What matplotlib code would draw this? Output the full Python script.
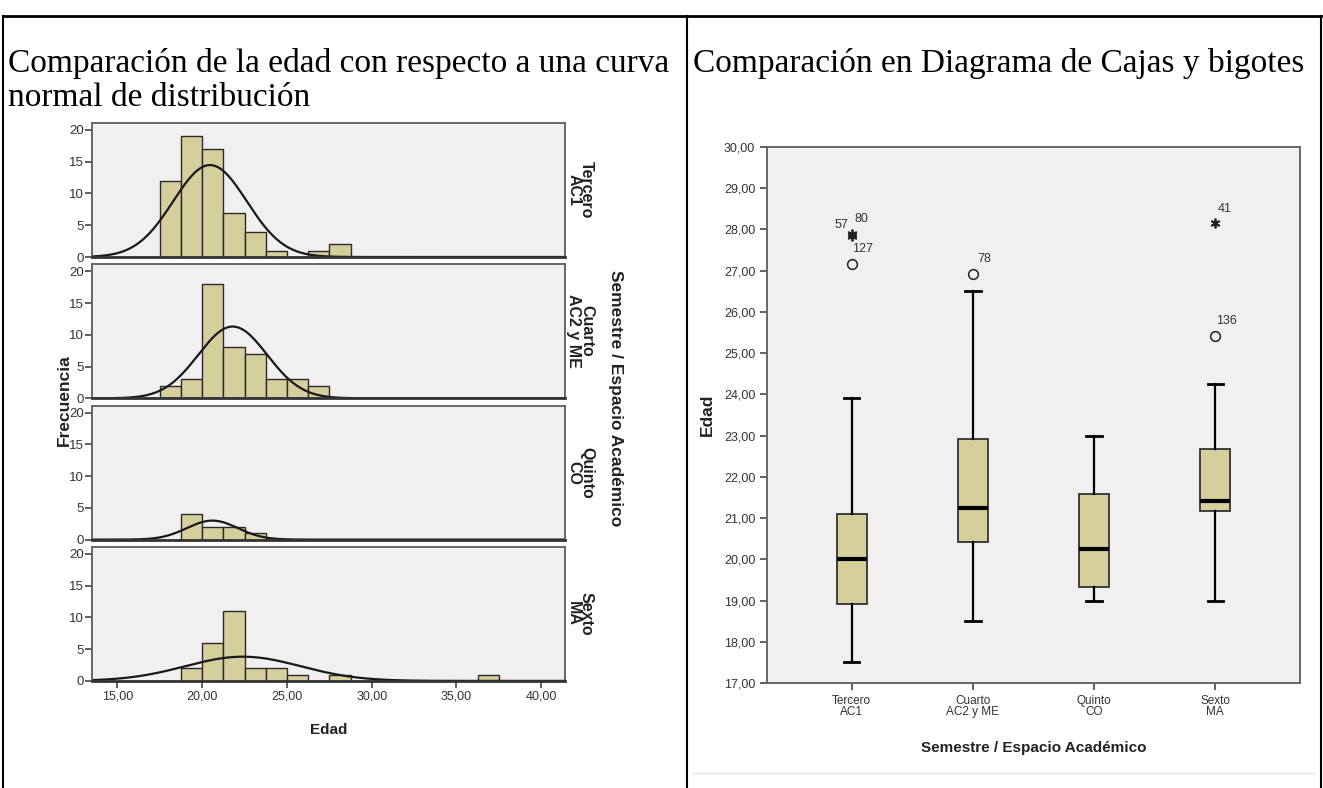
import numpy as np
import matplotlib.pyplot as plt
from matplotlib.lines import Line2D

# ---- data ----
bin_edges = [17.5, 18.75, 20.0, 21.25, 22.5, 23.75, 25.0, 26.25, 27.5, 28.75,
             30.0, 31.25, 32.5, 33.75, 35.0, 36.25, 37.5]
groups = ['Tercero\nAC1', 'Cuarto\nAC2 y ME', 'Quinto\nCO', 'Sexto\nMA']
tercero = [12, 19, 17, 7, 4, 1, 0, 1, 2, 0, 0, 0, 0, 0, 0, 0]
cuarto = [2, 3, 18, 8, 7, 3, 3, 2, 0, 0, 0, 0, 0, 0, 0, 0]
quinto = [0, 4, 2, 2, 1, 0, 0, 0, 0, 0, 0, 0, 0, 0, 0, 0]
sexto = [0, 2, 6, 11, 2, 2, 1, 0, 1, 0, 0, 0, 0, 0, 0, 1]
counts = [tercero, cuarto, quinto, sexto]
# normal curve parameters (mean, sd, n)
norm_mean = [20.46, 21.8, 20.6, 22.4]
norm_sd = [2.17, 2.03, 1.5, 3.4]
norm_n = [63, 46, 9, 26]

# boxplot summary
whis_lo = [17.5, 18.5, 19.0, 19.0]
q1 = [18.92, 20.41, 19.33, 21.16]
med = [20.0, 21.24, 20.25, 21.42]
q3 = [21.09, 22.92, 21.59, 22.67]
whis_hi = [23.92, 26.5, 23.0, 24.25]
out_vals = [[27.17], [26.91], [], [25.42]]
out_ids = [['127'], ['78'], [], ['136']]
ext_vals = [[27.85, 27.9], [], [], [28.15]]
ext_ids = [['57', '80'], [], [], ['41']]

W, H = 1323, 788
TAN = '#d5cf9c'
BG = '#f0f0f0'
TXT = '#333333'

plt.rcParams['font.family'] = 'Liberation Sans'

fig = plt.figure(figsize=(W / 100, H / 100), dpi=100)


def box(x0, y0, x1, y1):
    return [x0 / W, 1 - y1 / H, (x1 - x0) / W, (y1 - y0) / H]


# ---- table frame and titles ----
for x in [3, 687, 1321]:
    fig.add_artist(Line2D([x / W, x / W], [0, 1 - 16 / H], color='black', lw=1.5))
fig.add_artist(Line2D([3 / W, 1321 / W], [1 - 16 / H, 1 - 16 / H], color='black', lw=2))
fig.add_artist(Line2D([693 / W, 1314 / W], [1 - 773 / H, 1 - 773 / H], color='#e4e4e4', lw=1))

fig.text(8 / W, 1 - 72 / H, 'Comparación de la edad con respecto a una curva',
         family='Liberation Serif', fontsize=24, va='baseline')
fig.text(8 / W, 1 - 106 / H, 'normal de distribución',
         family='Liberation Serif', fontsize=24, va='baseline')
fig.text(693 / W, 1 - 72 / H, 'Comparación en Diagrama de Cajas y bigotes',
         family='Liberation Serif', fontsize=24, va='baseline')

# ---- histograms ----
edges = np.array(bin_edges)
widths = np.diff(edges)
xs = np.linspace(13.5, 41.4, 400)
axes = []
for i in range(4):
    top = 123 + i * 141.3
    ax = fig.add_axes(box(92, top, 565, top + 134))
    ax.set_facecolor(BG)
    ax.bar(edges[:-1], counts[i], width=widths, align='edge', color=TAN,
           edgecolor='#2a2a2a', linewidth=1)
    pdf = np.exp(-0.5 * ((xs - norm_mean[i]) / norm_sd[i]) ** 2) / (norm_sd[i] * np.sqrt(2 * np.pi))
    ax.plot(xs, norm_n[i] * 1.25 * pdf, color='#1a1a1a', lw=1.6)
    ax.set_xlim(13.5, 41.4)
    ax.set_ylim(0, 21.1)
    ax.set_yticks([0, 5, 10, 15, 20])
    ax.tick_params(axis='y', direction='out', length=5, width=1.2, pad=1,
                   labelsize=9.5, labelcolor=TXT, color='#444444')
    for s in ax.spines.values():
        s.set_color('#666666')
        s.set_linewidth(1.4)
    ax.spines['bottom'].set_color('#333333')
    ax.spines['bottom'].set_linewidth(2)
    ax.text(1.032, 0.5, groups[i], transform=ax.transAxes, rotation=270,
            ha='center', va='center', fontsize=11.5, fontweight='bold',
            linespacing=0.8, color='#222222')
    if i < 3:
        ax.set_xticks([])
    else:
        ax.set_xticks([15, 20, 25, 30, 35, 40])
        ax.set_xticklabels(['15,00', '20,00', '25,00', '30,00', '35,00', '40,00'])
        ax.tick_params(axis='x', direction='out', length=5, width=1.2, pad=2,
                       labelsize=9, labelcolor=TXT, color='#444444')
        ax.set_xlabel('Edad', fontsize=11, fontweight='bold', color='#222222')
        ax.xaxis.set_label_coords(0.5, -42 / 134)
    axes.append(ax)

fig.text(64 / W, 1 - 400 / H, 'Frecuencia', rotation=90, ha='center', va='center',
         fontsize=12.5, fontweight='bold', color='#222222')
fig.text(616 / W, 1 - 398 / H, 'Semestre / Espacio Académico', rotation=270,
         ha='center', va='center', fontsize=12.5, fontweight='bold', color='#222222')

# ---- boxplot ----
bx = fig.add_axes(box(767, 147, 1300, 683))
bx.set_facecolor(BG)
stats = []
for i in range(4):
    stats.append({'whislo': whis_lo[i], 'q1': q1[i], 'med': med[i], 'q3': q3[i],
                  'whishi': whis_hi[i], 'fliers': out_vals[i]})
pos = [1, 2, 3, 4]
bx.bxp(stats, positions=pos, widths=0.25, capwidths=0.125, patch_artist=True,
       boxprops=dict(facecolor=TAN, edgecolor='#333333', linewidth=1.3),
       medianprops=dict(color='black', linewidth=3),
       whiskerprops=dict(color='black', linewidth=1.6),
       capprops=dict(color='black', linewidth=2),
       flierprops=dict(marker='o', markersize=7, markerfacecolor='none',
                       markeredgecolor='#222222', markeredgewidth=1.1))
for i in range(4):
    for v, t in zip(out_vals[i], out_ids[i]):
        bx.annotate(t, (pos[i], v), xytext=(11, 15), textcoords='offset pixels',
                    fontsize=9, color=TXT, ha='center', va='center')
    if ext_vals[i]:
        bx.plot([pos[i]] * len(ext_vals[i]), ext_vals[i], ls='none',
                marker=(6, 2, 0), markersize=7, markeredgewidth=1.3,
                color='#222222')
    for k, (v, t) in enumerate(zip(ext_vals[i], ext_ids[i])):
        if len(ext_vals[i]) > 1:
            dx = -10 if k == 0 else 10
            dy = 11 if k == 0 else 15
        else:
            dx, dy = 9, 14
        bx.annotate(t, (pos[i], v), xytext=(dx, dy), textcoords='offset pixels',
                    fontsize=9, color=TXT, ha='center', va='center')

bx.set_xlim(0.3, 4.7)
bx.set_ylim(17, 30)
yt = np.arange(17, 31)
bx.set_yticks(yt)
bx.set_yticklabels(['%d,00' % v for v in yt])
bx.set_xticks(pos)
bx.set_xticklabels(groups, linespacing=0.9)
bx.tick_params(axis='y', labelsize=9)
bx.tick_params(axis='x', labelsize=8.5)
bx.tick_params(direction='out', length=5, width=1.2,
               labelcolor=TXT, color='#444444')
for s in bx.spines.values():
    s.set_color('#666666')
    s.set_linewidth(1.4)
bx.set_ylabel('Edad', fontsize=12.5, fontweight='bold', color='#222222')
bx.yaxis.set_label_coords(-52 / 533, 0.5)
bx.set_xlabel('Semestre / Espacio Académico', fontsize=11, fontweight='bold',
              color='#222222')
bx.xaxis.set_label_coords(0.5, -58 / 536)

fig.savefig('out.png', dpi=100)
